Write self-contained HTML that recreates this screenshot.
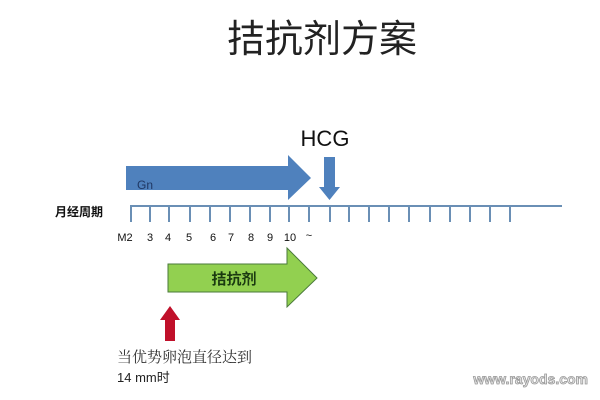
<!DOCTYPE html>
<html><head><meta charset="utf-8"><style>
body{margin:0;width:600px;height:400px;background:#fff;overflow:hidden;font-family:"Liberation Sans","Noto Sans CJK SC",sans-serif}
</style></head><body>
<svg width="600" height="400" xmlns="http://www.w3.org/2000/svg" style="position:absolute;left:0;top:0">
<text x="322" y="52" font-size="38" text-anchor="middle" fill="#222" font-family="Noto Sans CJK SC, sans-serif">拮抗剂方案</text>
<text x="325" y="146" font-size="22" text-anchor="middle" fill="#111" font-family="Liberation Sans, sans-serif">HCG</text>
<polygon points="126,166 288,166 288,155 311,178 288,200 288,190 126,190" fill="#4f81bd"/>
<text x="137" y="189" font-size="12" fill="#1f3864">Gn</text>
<polygon points="324,157 335,157 335,187 340,187 329.5,200 319,187 324,187" fill="#4f81bd"/>
<line x1="130" y1="206" x2="562" y2="206" stroke="#6a8fb5" stroke-width="2"/>
<g stroke="#6a8fb5" stroke-width="2">
<line x1="131" y1="206" x2="131" y2="222"/><line x1="150" y1="206" x2="150" y2="222"/><line x1="169" y1="206" x2="169" y2="222"/><line x1="190" y1="206" x2="190" y2="222"/><line x1="210" y1="206" x2="210" y2="222"/><line x1="230" y1="206" x2="230" y2="222"/><line x1="250" y1="206" x2="250" y2="222"/><line x1="270" y1="206" x2="270" y2="222"/><line x1="289" y1="206" x2="289" y2="222"/><line x1="309" y1="206" x2="309" y2="222"/><line x1="330" y1="206" x2="330" y2="222"/><line x1="349" y1="206" x2="349" y2="222"/><line x1="369" y1="206" x2="369" y2="222"/><line x1="389" y1="206" x2="389" y2="222"/><line x1="409" y1="206" x2="409" y2="222"/><line x1="430" y1="206" x2="430" y2="222"/><line x1="450" y1="206" x2="450" y2="222"/><line x1="470" y1="206" x2="470" y2="222"/><line x1="490" y1="206" x2="490" y2="222"/><line x1="510" y1="206" x2="510" y2="222"/>
</g>
<text x="55" y="216" font-size="12" font-weight="bold" fill="#111" font-family="Noto Sans CJK SC, sans-serif">月经周期</text>
<g font-size="11" fill="#111" text-anchor="middle">
<text x="125" y="241">M2</text><text x="150" y="241">3</text><text x="168" y="241">4</text><text x="189" y="241">5</text><text x="213" y="241">6</text><text x="231" y="241">7</text><text x="251" y="241">8</text><text x="270" y="241">9</text><text x="290" y="241">10</text><text x="309" y="239">~</text>
</g>
<polygon points="168,264 287,264 287,248 317,278 287,307 287,292 168,292" fill="#92d050" stroke="#4a7a3a" stroke-width="1"/>
<text x="234" y="284" font-size="15" font-weight="bold" text-anchor="middle" fill="#1a3a10" font-family="Noto Sans CJK SC, sans-serif">拮抗剂</text>
<polygon points="170,306 180,320 175,320 175,341 165,341 165,320 160,320" fill="#c0102a"/>
<text x="117" y="362" font-size="15" fill="#333" font-family="Noto Serif CJK SC, serif">当优势卵泡直径达到</text>
<text x="117" y="382" font-size="13" fill="#222">14 mm时</text>
<text x="588" y="384" font-size="14" font-weight="bold" text-anchor="end" fill="#e8e8e8" stroke="#999" stroke-width="0.8">www.rayods.com</text>
</svg>
</body></html>
